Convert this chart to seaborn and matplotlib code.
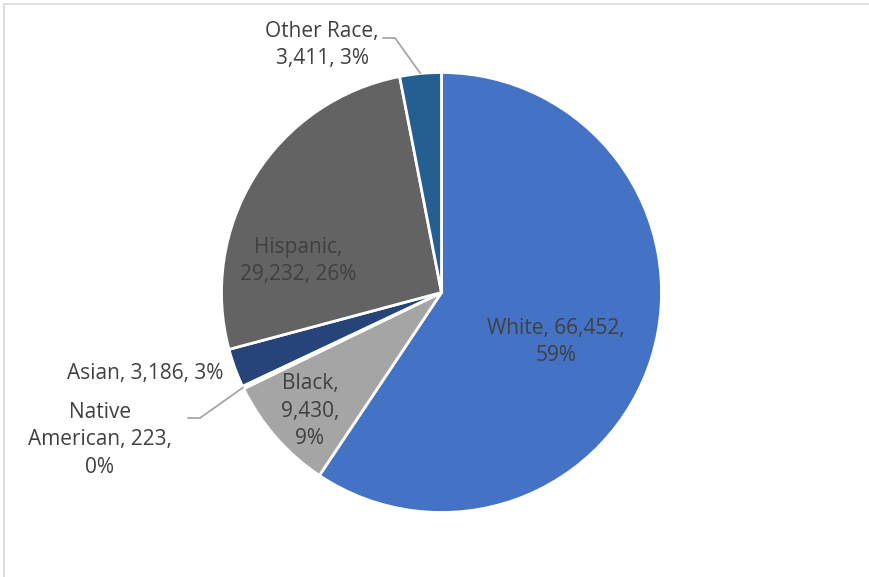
import numpy as np
import matplotlib
matplotlib.use("Agg")
import matplotlib.pyplot as plt
import seaborn as sns

# data
groups = ["White", "Black", "Native American", "Asian", "Hispanic", "Other Race"]
counts = [66452, 9430, 223, 3186, 29232, 3411]
pct_labels = ["59%", "9%", "0%", "3%", "26%", "3%"]
colors = ["#4472C4", "#A5A5A5", "#9E480E", "#264478", "#636363", "#255E91"]

sns.set_style("white")
plt.rcParams["font.family"] = ["Open Sans", "DejaVu Sans"]

W, H = 869, 577
fig = plt.figure(figsize=(W / 100, H / 100), dpi=100)
ax = fig.add_axes([0, 0, 1, 1])
ax.set_xlim(0, W)
ax.set_ylim(0, H)
ax.set_aspect("equal")
ax.axis("off")

# pixel coords (top-left origin) -> data coords
def px(x, y):
    return x, H - y

cx, cy = px(441.5, 292.5)
R = 220

wedges, _ = ax.pie(counts, colors=colors, startangle=90, counterclock=False,
                   center=(cx, cy), radius=R,
                   wedgeprops=dict(edgecolor="white", linewidth=2))
ax.set_xlim(0, W)
ax.set_ylim(0, H)

def fmt(n):
    return f"{n:,}"

texts = [
    f"{groups[0]}, {fmt(counts[0])},\n{pct_labels[0]}",
    f"{groups[1]},\n{fmt(counts[1])},\n{pct_labels[1]}",
    f"Native\nAmerican, {fmt(counts[2])},\n{pct_labels[2]}",
    f"{groups[3]}, {fmt(counts[3])}, {pct_labels[3]}",
    f"{groups[4]},\n{fmt(counts[4])}, {pct_labels[4]}",
    f"{groups[5]},\n{fmt(counts[5])}, {pct_labels[5]}",
]

# label layout (image pixels)
label_pos = [(556, 342), (310, 411), (100, 440), (145, 373), (298, 261), (322, 45)]

for t, (lx, ly) in zip(texts, label_pos):
    x, y = px(lx, ly)
    ax.text(x, y, t, ha="center", va="center", fontsize=15, color="#404040",
            linespacing=1.38)

# leader lines: elbow points in image pixels, end at the wedge edge
leaders = {2: [(188, 418), (200, 418)], 5: [(383, 38), (395, 38)]}
for i, pts in leaders.items():
    w = wedges[i]
    mid = np.deg2rad((w.theta1 + w.theta2) / 2)
    ex = cx + R * np.cos(mid)
    ey = cy + R * np.sin(mid)
    xs = [px(*p)[0] for p in pts] + [ex]
    ys = [px(*p)[1] for p in pts] + [ey]
    ax.plot(xs, ys, color="#A6A6A6", lw=1.3)

# chart frame
fig.add_artist(plt.Line2D([3.5 / W, 3.5 / W], [0, 1 - 4 / H], color="#D9D9D9",
                          lw=1.2, transform=fig.transFigure))
fig.add_artist(plt.Line2D([3.5 / W, 1], [1 - 4 / H, 1 - 4 / H], color="#D9D9D9",
                          lw=1.2, transform=fig.transFigure))

fig.savefig("out.png", dpi=100)
